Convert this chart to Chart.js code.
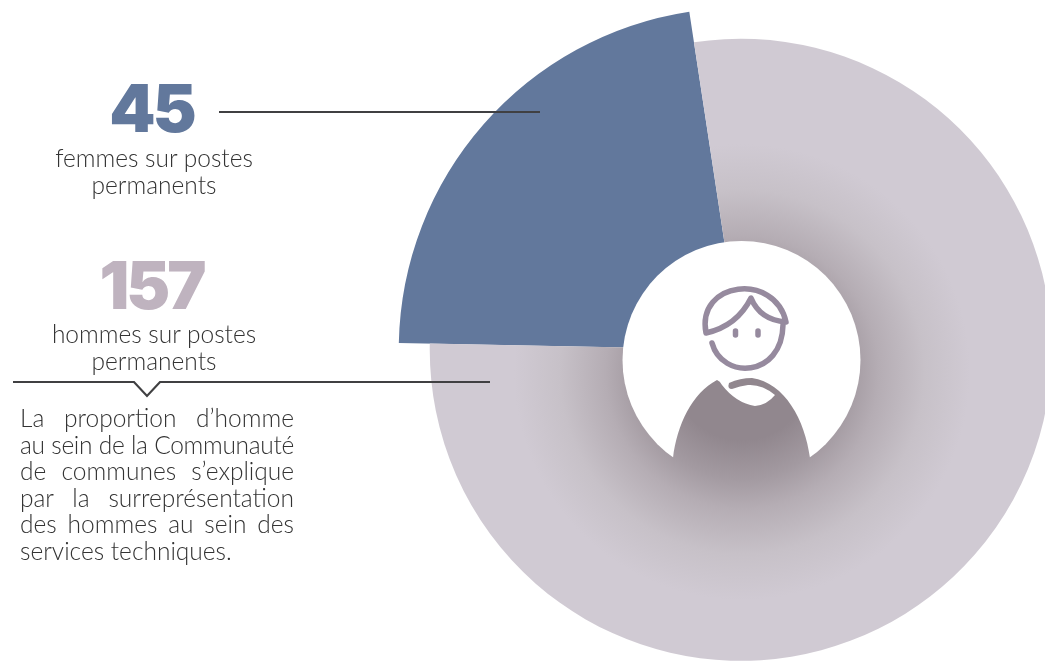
<!DOCTYPE html>
<html lang="fr">
<head>
<meta charset="utf-8">
<title>Postes permanents</title>
<script src="https://cdn.jsdelivr.net/npm/chart.js@4"></script>
<style>
  html, body { margin: 0; padding: 0; width: 1045px; height: 662px; overflow: hidden; background: #fff; }
  #wrap { position: relative; width: 1045px; height: 662px; overflow: hidden; }
  canvas { position: absolute; left: 0; top: 0; }
  .t { position: absolute; font-family: Lato, sans-serif; font-weight: 300; color: #333; font-size: 24.5px; line-height: 27px; white-space: nowrap; }
  .center { left: 4px; width: 300px; text-align: center; }
  .num { position: absolute; left: 1.5px; width: 300px; text-align: center; font-family: Inter, sans-serif; font-weight: 900; font-size: 66px; line-height: 66px; letter-spacing: -3px; }
  .para { left: 20px; width: 274px; line-height: 26.6px; }
  .para div { text-align: justify; text-align-last: justify; height: 26.6px; }
  .para div.tight { word-spacing: -4px; letter-spacing: -0.3px; }
  .para div:last-child { text-align-last: left; }
</style>
</head>
<body>
<div id="wrap">
  <canvas id="pie" width="1083" height="692"></canvas>
  <div class="num" id="n0" style="top:75px;color:#62789c"></div>
  <div class="t center" id="l0" style="top:144px"></div>
  <div class="num" id="n1" style="top:252px;color:#bfb3bf"></div>
  <div class="t center" id="l1" style="top:320px"></div>
  <div class="t para" id="para" style="top:405px"></div>
</div>
<script>
const categories = ['femmes sur postes permanents', 'hommes sur postes permanents'];
const counts = [45, 157];
const labelLines = [['femmes sur postes', 'permanents'], ['hommes sur postes', 'permanents']];
const noteLines = [
  'La proportion d\u2019homme',
  'au sein de la Communaut\u00e9',
  'de communes s\u2019explique',
  'par la surrepr\u00e9sentation',
  'des hommes au sein des',
  'services techniques.'
];
const sliceColors = ['#62789c', '#d0cad3'];
const sliceRadii = [342, 311];

counts.forEach((c, i) => {
  document.getElementById('n' + i).textContent = c;
  document.getElementById('l' + i).innerHTML = labelLines[i].join('<br>');
});
document.getElementById('para').innerHTML = noteLines
  .map((l, i) => '<div' + (i === 1 ? ' class="tight"' : '') + '>' + l + '</div>')
  .join('');

// soft dark halo behind the hole, same paint for the slice and the body cut-out
function halo(ctx) {
  const g = ctx.createRadialGradient(742, 372, 0, 742, 372, 228);
  g.addColorStop(0, '#91878e');
  g.addColorStop(0.3, '#91878e');
  g.addColorStop(0.47, '#a39aa1');
  g.addColorStop(0.6, '#b5adb4');
  g.addColorStop(0.8, '#c7c1c8');
  g.addColorStop(1, sliceColors[1]);
  return g;
}

// the two slices have different radii
const sliceRadiusPlugin = {
  id: 'sliceRadius',
  afterDatasetsUpdate(chart) {
    chart.getDatasetMeta(0).data.forEach((arc, i) => {
      arc.outerRadius = sliceRadii[i];
    });
  }
};

const decorPlugin = {
  id: 'decor',
  afterDatasetsDraw(chart) {
    const ctx = chart.ctx;
    ctx.save();

    // white hole
    ctx.fillStyle = '#fff';
    ctx.beginPath();
    ctx.arc(741.5, 360, 119, 0, Math.PI * 2);
    ctx.fill();

    // body lets the halo show through
    ctx.fillStyle = halo(ctx);
    ctx.beginPath();
    ctx.moveTo(673, 458);
    ctx.bezierCurveTo(677, 425, 692, 393, 717, 380);
    ctx.quadraticCurveTo(720, 381, 722, 385);
    ctx.quadraticCurveTo(736, 403, 755, 406);
    ctx.quadraticCurveTo(767, 405, 775, 395);
    ctx.quadraticCurveTo(762, 384, 748, 385);
    ctx.quadraticCurveTo(740, 386, 732, 389);
    ctx.quadraticCurveTo(727, 389, 729, 383);
    ctx.quadraticCurveTo(740, 378, 752, 378);
    ctx.bezierCurveTo(785, 383, 805, 420, 810, 458);
    ctx.lineTo(810, 482);
    ctx.lineTo(673, 482);
    ctx.closePath();
    ctx.fill();

    // head
    ctx.strokeStyle = '#968a9e';
    ctx.lineWidth = 5.5;
    ctx.lineCap = 'round';
    ctx.lineJoin = 'round';
    ctx.beginPath();
    ctx.moveTo(712, 343);
    ctx.bezierCurveTo(722, 380, 782, 378, 783, 325);
    ctx.stroke();
    ctx.beginPath();
    ctx.moveTo(706, 333);
    ctx.bezierCurveTo(696, 281, 775, 272, 786, 322);
    ctx.quadraticCurveTo(760, 320, 751, 298);
    ctx.quadraticCurveTo(737, 326, 706, 333);
    ctx.stroke();
    ctx.beginPath();
    ctx.moveTo(735.5, 331);
    ctx.lineTo(735.5, 335);
    ctx.moveTo(758, 331);
    ctx.lineTo(758, 335);
    ctx.stroke();

    // leader lines
    ctx.strokeStyle = '#404042';
    ctx.lineWidth = 2.2;
    ctx.lineCap = 'butt';
    ctx.lineJoin = 'miter';
    ctx.beginPath();
    ctx.moveTo(219, 112);
    ctx.lineTo(540, 112);
    ctx.stroke();
    ctx.beginPath();
    ctx.moveTo(13, 382);
    ctx.lineTo(134, 382);
    ctx.lineTo(147, 396);
    ctx.lineTo(160, 382);
    ctx.lineTo(490, 382);
    ctx.stroke();
    ctx.restore();
  }
};

const ctx = document.getElementById('pie').getContext('2d');
new Chart(ctx, {
  type: 'pie',
  data: {
    labels: categories,
    datasets: [{
      data: counts,
      backgroundColor: c => (c.dataIndex === 0 ? sliceColors[0] : halo(c.chart.ctx)),
      borderWidth: 0,
      hoverOffset: 0
    }]
  },
  options: {
    responsive: false,
    animation: false,
    events: [],
    rotation: -88.85,
    // canvas runs past the page so the big circle is cropped on the right
    layout: { padding: { left: 398.5, top: 7.6 } },
    plugins: { legend: { display: false }, tooltip: { enabled: false } }
  },
  plugins: [sliceRadiusPlugin, decorPlugin]
});
</script>
</body>
</html>
